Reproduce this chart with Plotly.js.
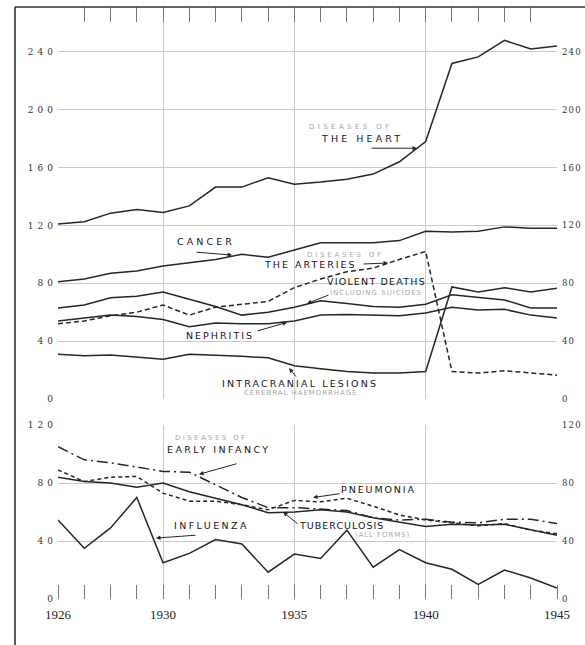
<!DOCTYPE html>
<html>
<head>
<meta charset="utf-8">
<script src="https://cdn.plot.ly/plotly-3.0.1.min.js"></script>
<style>
  html, body { margin: 0; padding: 0; background: #fff; }
  g.ytick text, g.y2tick text { letter-spacing: 4px; }
  g.y3tick text, g.y4tick text { letter-spacing: 1.2px; }
</style>
</head>
<body>
<div id="chart" style="width:585px;height:645px;"></div>
<script>
// ---- data (deaths per 100,000) ----
const years = [1926,1927,1928,1929,1930,1931,1932,1933,1934,1935,1936,1937,1938,1939,1940,1941,1942,1943,1944,1945];

// upper panel
const heart        = [121,122.5,128.5,131,129,133.5,146.5,146.5,153,148.5,150,152,155.5,164,178,232,236.5,248,242,244];
const cancer       = [81,83,87,88.5,92,94,96.5,100,98,103,108,108,108,109.5,116,115.5,116,119,118,118];
const arteries     = [52,54,57.5,60,65,58,63.5,65.5,67.5,77,83,88,90.5,96.5,102,19,18,19.5,18,16.5];
const violent      = [63,65,70,71,74,69,64,58,60,63.5,68,66,64,63.5,65.5,72,70,68.5,63,63];
const nephritis    = [54,56,58,57,55,50,52.5,52,52,54,58,58.5,58,57.5,59.5,63.5,61.5,62,58,56];
const intracranial = [31,30,30.5,29,27.5,31,30.5,29.5,28.5,23,21,19,18,18,19,77.5,74,77,74,76.5];

// lower panel
const infancy      = [105,96,94,91,88,87.5,78.5,70,63,63,62,61,56,54.5,55,53,52.5,55,55,52];
const pneumonia    = [89,81,84,84.5,73,67.5,67.5,65,61.5,68,67,69.5,64,58,54.5,52.5,50.5,52,47.5,45];
const tuberculosis = [84,81,80,77,80,74,69.5,65,59.5,60,61.5,60,56,53,50,51.5,51,51.5,47.5,44];
const influenza    = [54.5,35,49,70,25,31.5,41,38,18.5,31,28,47.5,22,34,25,20.5,10,20,14.5,7.5];

// axis ticks
const xTickVals   = [1926,1930,1935,1940,1945];
const xTickText   = ['1926','1930','1935','1940','1945'];
const topTickVals = [0,40,80,120,160,200,240];
const topTickText = ['0','40','80','120','160','200','240'];
const lowTickVals = [0,40,80,120];
const lowTickText = ['0','40','80','120'];

// ---- styling ----
const ink = '#262626';
const grid = '#c9c9c9';
function line(y, xa, ya, dash) {
  return {x: years, y: y, xaxis: xa, yaxis: ya,
          type: 'scatter', mode: 'lines', hoverinfo: 'skip',
          line: {color: ink, width: 1.5, dash: dash || 'solid'}};
}
const traces = [
  line(heart, 'x2', 'y3'), line(cancer, 'x2', 'y2'), line(arteries, 'x2', 'y2', '5px,3px'),
  line(violent, 'x2', 'y2'), line(nephritis, 'x2', 'y2'), line(intracranial, 'x2', 'y2'),
  line(infancy, 'x', 'y', '11px,4px,2px,4px'), line(pneumonia, 'x', 'y', '4px,3px'),
  line(tuberculosis, 'x', 'y'), line(influenza, 'x', 'y4')
];

const yFont = {family: 'DejaVu Serif, Liberation Serif, serif', size: 9, color: '#333'};
const yFontR = {family: 'DejaVu Serif, Liberation Serif, serif', size: 8.5, color: '#333'};
const xFont = {family: 'Liberation Serif, DejaVu Serif, serif', size: 13, color: '#222'};
const labFont = {family: 'DejaVu Sans, Liberation Sans, sans-serif', size: 9.5, color: '#151515'};
const subFont = {family: 'DejaVu Sans, Liberation Sans, sans-serif', size: 7, color: '#a8a8a8'};

function lab(text, x, y, ref, ls, f) {
  return {text: '<span style="letter-spacing:' + ls + 'px">' + text + '</span>',
          x: x, y: y, xref: 'x', yref: ref, showarrow: false, font: f || labFont};
}
function arr(x, y, ref, ax, ay) {
  return {text: '', x: x, y: y, xref: 'x', yref: ref, showarrow: true, ax: ax, ay: ay,
          arrowhead: 2, arrowsize: 0.9, arrowwidth: 1, arrowcolor: ink};
}
const annotations = [
  lab('DISEASES OF', 1937.16, 187.9, 'y2', 3.4, subFont),
  lab('THE HEART', 1937.58, 180.3, 'y2', 3.1),
  arr(1939.67, 173.4, 'y2', -47, 0),
  lab('CANCER', 1931.64, 109.2, 'y2', 3.1),
  arr(1932.63, 99.5, 'y2', -37, -3),
  lab('DISEASES OF', 1936.93, 99.5, 'y2', 2.8, subFont),
  lab('THE ARTERIES', 1935.63, 93.3, 'y2', 2.0),
  arr(1938.57, 94, 'y2', -26, 1),
  lab('VIOLENT DEATHS', 1938.11, 80.9, 'y2', 1.2),
  lab('INCLUDING SUICIDES', 1938.11, 73.3, 'y2', 1.0, subFont),
  arr(1935.48, 66, 'y2', 23, -9),
  lab('NEPHRITIS', 1932.17, 44.2, 'y2', 2.0),
  arr(1934.72, 53, 'y2', -31, 9),
  lab('INTRACRANIAL LESIONS', 1935.21, 10.4, 'y2', 2.15),
  lab('CEREBRAL HAEMORRHAGE', 1935.25, 4.1, 'y2', 0.95, subFont),
  arr(1934.8, 21.4, 'y2', 8, 10),
  lab('DISEASES OF', 1931.83, 111, 'y', 2.4, subFont),
  lab('EARLY INFANCY', 1932.13, 103.4, 'y', 2.4),
  arr(1931.37, 86, 'y', 39, -11),
  lab('PNEUMONIA', 1938.22, 75.2, 'y', 1.9),
  arr(1935.71, 70, 'y', 28, -4),
  lab('TUBERCULOSIS', 1936.78, 51, 'y', 1.0),
  lab('(ALL FORMS)', 1938.37, 44.1, 'y', 0.9, subFont),
  arr(1934.57, 60, 'y', 16, 13),
  lab('INFLUENZA', 1931.86, 51, 'y', 2.4),
  arr(1929.73, 42, 'y', 41, -3)
];

const layout = {
  width: 585, height: 645,
  margin: {l: 58, r: 28, t: 7, b: 46, pad: 0},
  paper_bgcolor: '#fff', plot_bgcolor: '#fff',
  showlegend: false,
  xaxis: {
    domain: [0, 1], range: [1926, 1945], anchor: 'y',
    tickmode: 'array', tickvals: xTickVals, ticktext: xTickText, tickfont: xFont,
    ticklabelstandoff: 6,
    ticks: '', showgrid: true, gridcolor: grid, gridwidth: 1, zeroline: false, showline: false,
    minor: {tick0: 1926, dtick: 1, ticks: 'inside', ticklen: 14, tickcolor: '#777', tickwidth: 1, showgrid: false}
  },
  xaxis2: {
    domain: [0, 1], range: [1926, 1945], anchor: 'y2', side: 'top', matches: 'x',
    tickmode: 'array', tickvals: xTickVals, showticklabels: false,
    ticks: 'inside', ticklen: 15, tickcolor: '#777',
    showgrid: true, gridcolor: grid, gridwidth: 1, zeroline: false, showline: false,
    minor: {tick0: 1926, dtick: 1, ticks: 'inside', ticklen: 15, tickcolor: '#777', tickwidth: 1, showgrid: false}
  },
  yaxis: {
    domain: [0, 0.2939], range: [0, 120], anchor: 'x',
    tickmode: 'array', tickvals: lowTickVals, ticktext: lowTickText, tickfont: yFont,
    ticks: '', showgrid: true, gridcolor: grid, zeroline: false, showline: false
  },
  yaxis2: {
    domain: [0.3378, 1], range: [0, 271], anchor: 'x2',
    tickmode: 'array', tickvals: topTickVals, ticktext: topTickText, tickfont: yFont,
    ticks: '', showgrid: true, gridcolor: grid, zeroline: false, showline: false
  },
  yaxis3: {
    overlaying: 'y2', side: 'right', anchor: 'x2', range: [0, 271],
    tickmode: 'array', tickvals: topTickVals, ticktext: topTickText, tickfont: yFontR,
    ticklabelstandoff: 4,
    ticks: '', showgrid: false, zeroline: false, showline: false
  },
  yaxis4: {
    overlaying: 'y', side: 'right', anchor: 'x', range: [0, 120],
    tickmode: 'array', tickvals: lowTickVals, ticktext: lowTickText, tickfont: yFontR,
    ticklabelstandoff: 4,
    ticks: '', showgrid: false, zeroline: false, showline: false
  },
  shapes: [
    {type: 'line', xref: 'paper', yref: 'paper', x0: -0.0862, x1: 1.06, y0: 1, y1: 1, line: {color: '#333', width: 1.6}},
    {type: 'line', xref: 'paper', yref: 'paper', x0: -0.0862, x1: -0.0862, y0: 1, y1: -0.08, line: {color: '#333', width: 1.6}}
  ],
  annotations: annotations
};

Plotly.newPlot('chart', traces, layout, {staticPlot: true, displayModeBar: false});
</script>
</body>
</html>
